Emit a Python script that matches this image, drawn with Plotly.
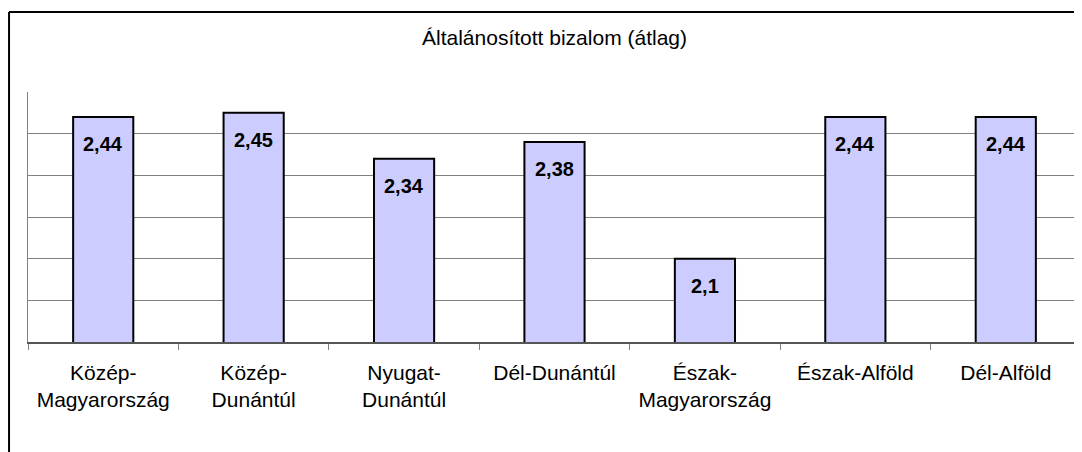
import plotly.graph_objects as go

regions = ["Közép-<br>Magyarország", "Közép-<br>Dunántúl", "Nyugat-<br>Dunántúl",
           "Dél-Dunántúl", "Észak-<br>Magyarország", "Észak-Alföld", "Dél-Alföld"]
trust = [2.44, 2.45, 2.34, 2.38, 2.10, 2.44, 2.44]
value_labels = ["2,44", "2,45", "2,34", "2,38", "2,1", "2,44", "2,44"]

font = "Liberation Sans, Arial, sans-serif"

fig = go.Figure()
fig.add_bar(x=regions, y=trust, marker=dict(color="#CCCCFF", line=dict(color="black", width=2)),
            hoverinfo="skip")

# value labels sit a bit below the bar top, like the excel chart
for r, v, t in zip(regions, trust, value_labels):
    fig.add_annotation(x=r, y=v, text="<b>%s</b>" % t, showarrow=False, yanchor="middle",
                       yshift=-27, font=dict(family=font, size=20, color="black"))

# outer chart frame (left and top edges visible)
fig.add_shape(type="line", xref="paper", yref="paper", x0=-0.018, x1=1.1, y0=1.32, y1=1.32,
              line=dict(color="black", width=2))
fig.add_shape(type="line", xref="paper", yref="paper", x0=-0.018, x1=-0.018, y0=1.32, y1=-0.6,
              line=dict(color="black", width=2))

# page body has an 8px margin, so the figure is 8px smaller and margins shifted
fig.update_layout(
    width=1074, height=444,
    margin=dict(l=20, r=1, t=84, b=110),
    paper_bgcolor="white", plot_bgcolor="white",
    bargap=0.6, showlegend=False,
    title=dict(text="Általánosított bizalom (átlag)", x=0.5, xref="paper", xanchor="center",
               y=1 - 30 / 444, yanchor="middle", font=dict(family=font, size=21, color="black")),
    font=dict(family=font, size=21, color="black"),
)
fig.update_xaxes(showline=True, linecolor="#555555", linewidth=1.5, ticks="outside", tickson="boundaries",
                 ticklen=6, tickcolor="#808080", tickfont=dict(family=font, size=21, color="black"),
                 ticklabelstandoff=11, showgrid=False)
fig.update_yaxes(range=[1.9, 2.5], dtick=0.1, showticklabels=False, showgrid=True, gridcolor="#808080",
                 gridwidth=1, showline=True, linecolor="#808080", linewidth=1, mirror=True,
                 zeroline=False, ticks="")

fig.write_html("out.html")
